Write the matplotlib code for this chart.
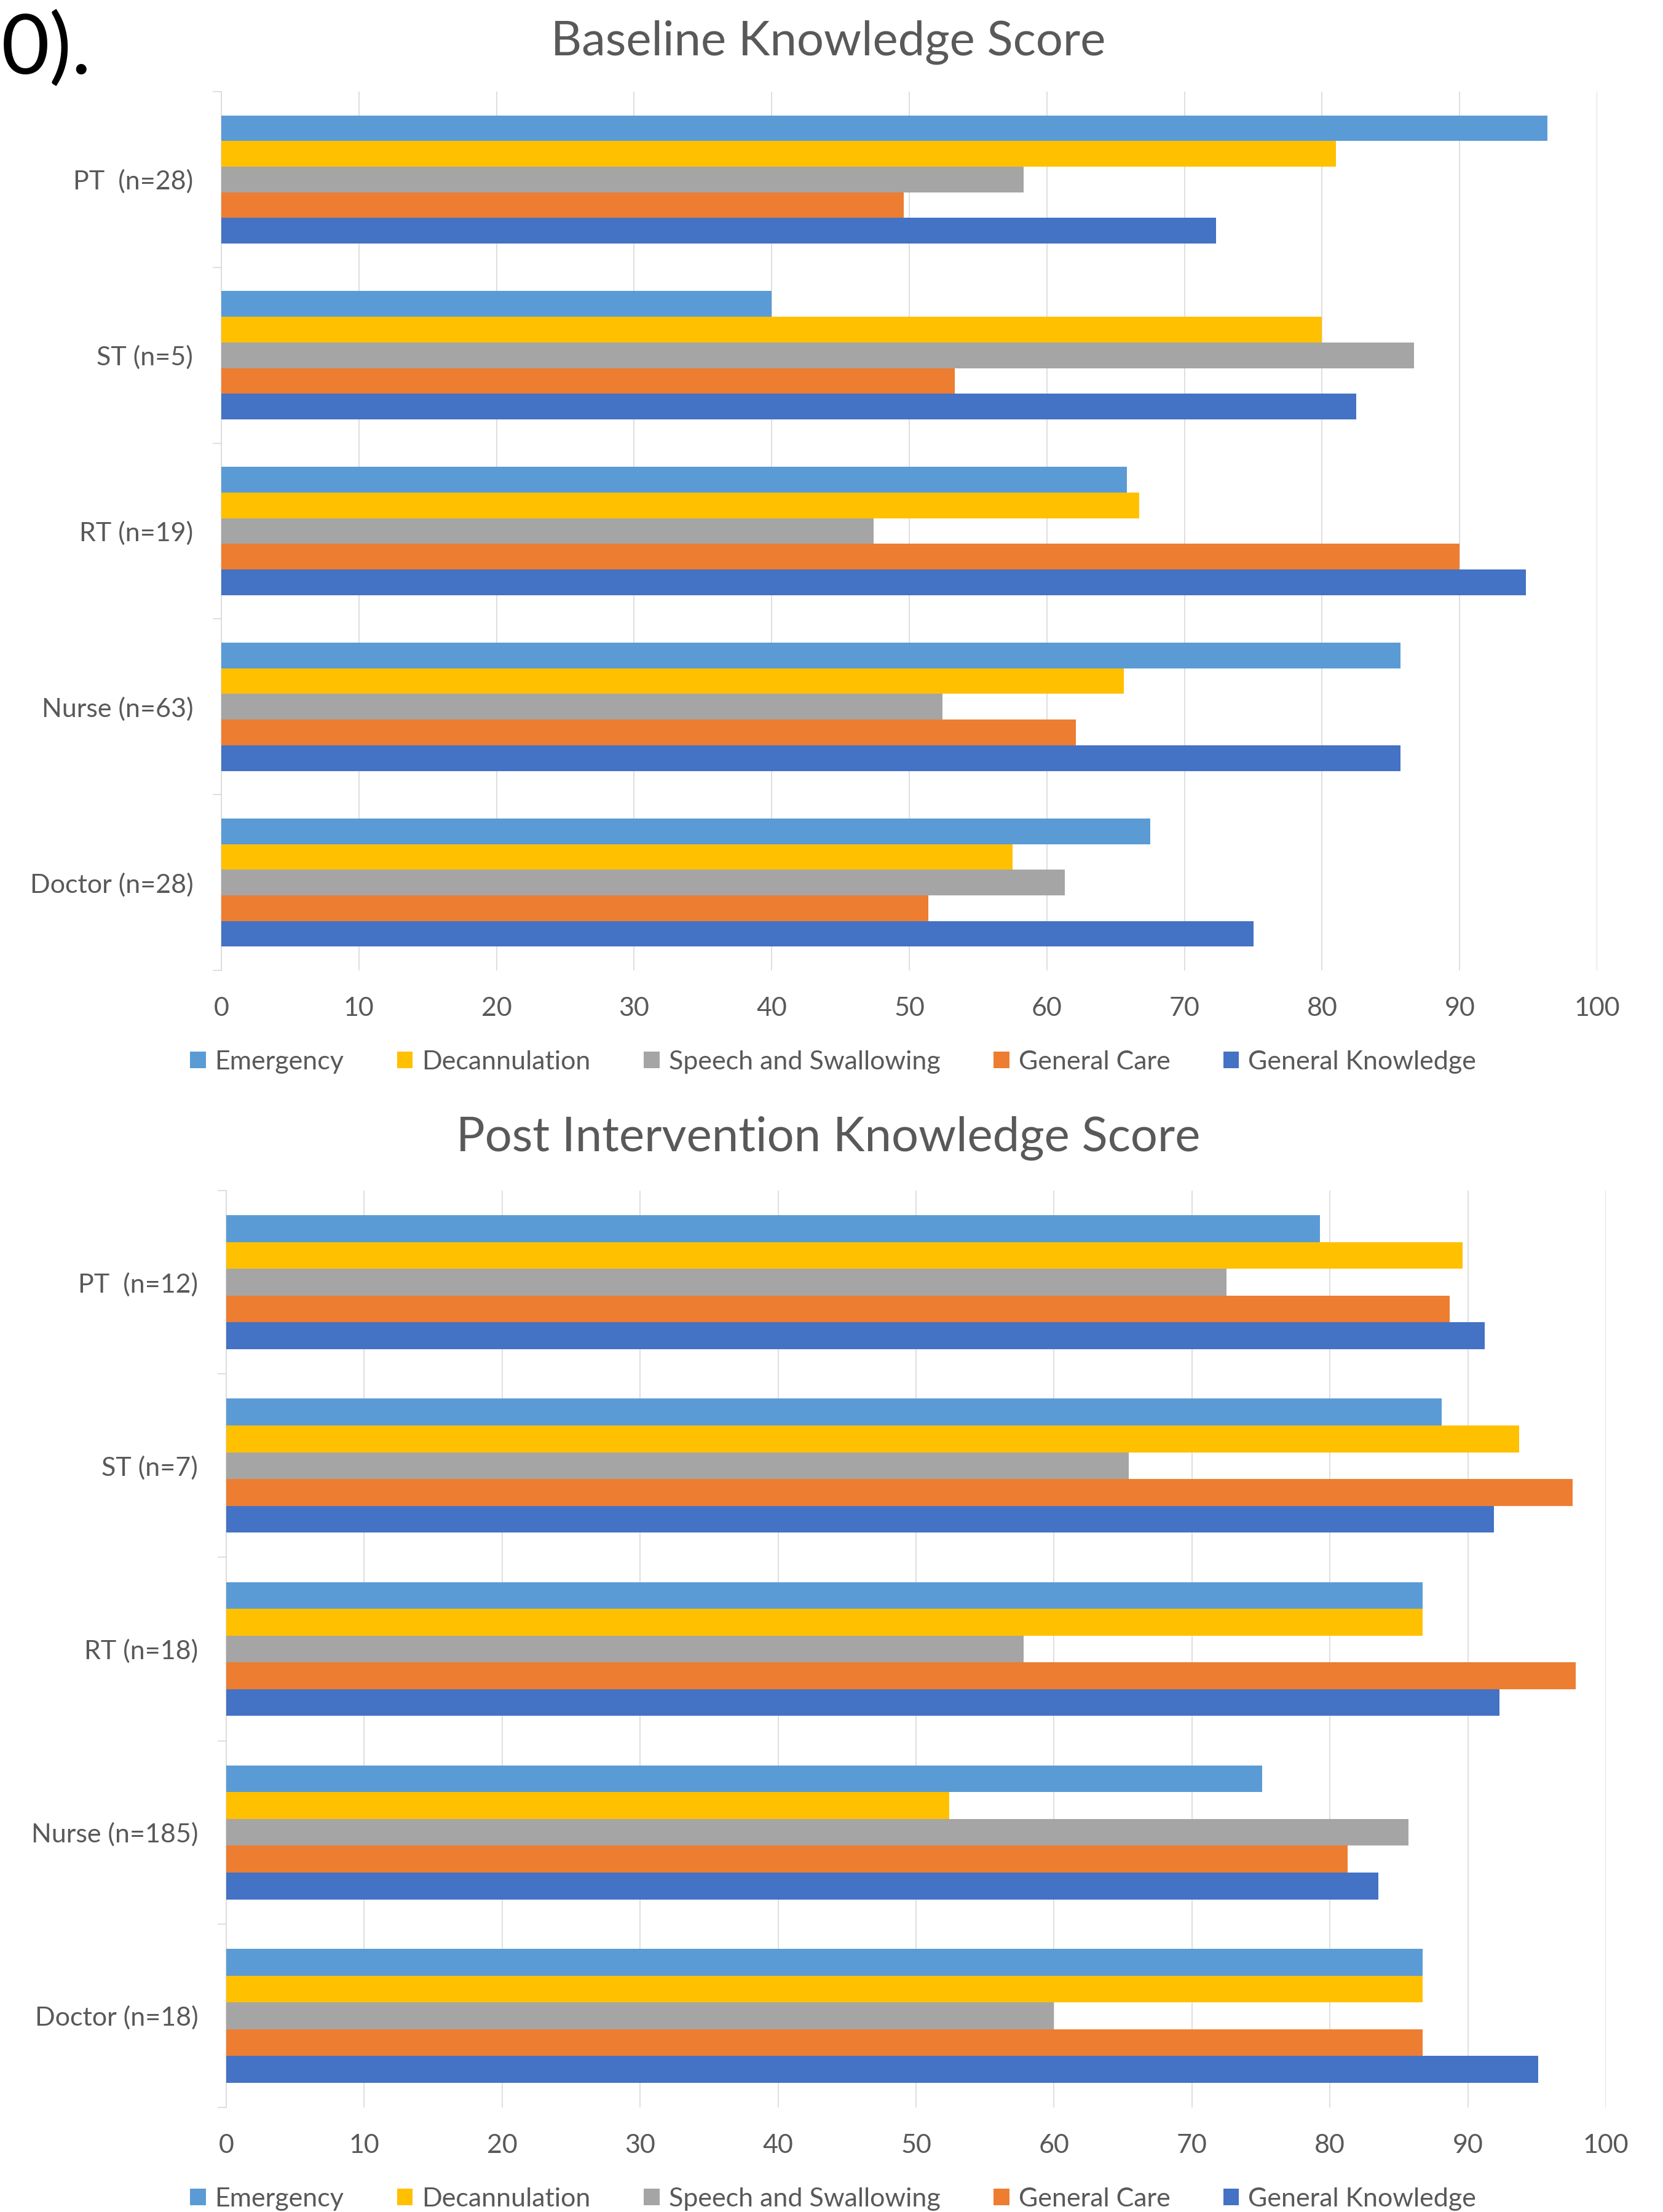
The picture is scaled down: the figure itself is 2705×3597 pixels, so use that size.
import matplotlib
matplotlib.use("Agg")
import matplotlib.pyplot as plt
from matplotlib.patches import Patch
import numpy as np

plt.rcParams['font.family'] = ['Lato', 'DejaVu Sans']

groups_base = ["PT  (n=28)", "ST (n=5)", "RT (n=19)", "Nurse (n=63)", "Doctor (n=28)"]
groups_post = ["PT  (n=12)", "ST (n=7)", "RT (n=18)", "Nurse (n=185)", "Doctor (n=18)"]
series = ["Emergency", "Decannulation", "Speech and Swallowing", "General Care", "General Knowledge"]
colors = ["#5B9BD5", "#FFC000", "#A5A5A5", "#ED7D31", "#4472C4"]

# baseline scores, order PT, ST, RT, Nurse, Doctor
base_emergency = [96.4, 40.0, 65.8, 85.7, 67.5]
base_decann = [81.0, 80.0, 66.7, 65.6, 57.5]
base_speech = [58.3, 86.7, 47.4, 52.4, 61.3]
base_care = [49.6, 53.3, 90.0, 62.1, 51.4]
base_knowledge = [72.3, 82.5, 94.8, 85.7, 75.0]

# post intervention scores
post_emergency = [79.3, 88.1, 86.7, 75.1, 86.7]
post_decann = [89.6, 93.7, 86.7, 52.4, 86.7]
post_speech = [72.5, 65.4, 57.8, 85.7, 60.0]
post_care = [88.7, 97.6, 97.8, 81.3, 86.7]
post_knowledge = [91.2, 91.9, 92.3, 83.5, 95.1]

xticks = [0, 10, 20, 30, 40, 50, 60, 70, 80, 90, 100]

W, H = 2705, 3597
fig = plt.figure(figsize=(W / 100, H / 100), dpi=100)

grid_c = "#d9d9d9"
txt_c = "#595959"
fs = 31


def draw(rect, groups, data):
    ax = fig.add_axes(rect)
    n = len(groups)
    pos = np.arange(n)[::-1]
    h = 0.146
    for i, vals in enumerate(data):
        ax.barh(pos + (2 - i) * h, vals, height=h, color=colors[i], zorder=3)
    ax.set_xlim(0, 100)
    ax.set_ylim(-0.5, n - 0.5)
    ax.set_xticks(xticks)
    ax.set_xticklabels([str(t) for t in xticks])
    ax.set_yticks(pos)
    ax.set_yticklabels(groups)
    ax.set_yticks(np.arange(n + 1) - 0.5, minor=True)
    ax.grid(axis="x", color=grid_c, linewidth=1.2, zorder=0)
    for s in ["top", "right", "bottom"]:
        ax.spines[s].set_visible(False)
    ax.spines["left"].set_color(grid_c)
    ax.spines["left"].set_linewidth(1.2)
    ax.tick_params(axis="x", length=0, pad=31, labelsize=fs, labelcolor=txt_c)
    ax.tick_params(axis="y", which="major", length=0, pad=33, labelsize=fs, labelcolor=txt_c)
    ax.tick_params(axis="y", which="minor", length=10, width=1.2, color=grid_c)
    return ax


draw([360 / W, 1 - 1578 / H, (2598 - 360) / W, (1578 - 149) / H], groups_base,
     [base_emergency, base_decann, base_speech, base_care, base_knowledge])
draw([368 / W, 1 - 3427 / H, (2612 - 368) / W, (3427 - 1936) / H], groups_post,
     [post_emergency, post_decann, post_speech, post_care, post_knowledge])

fig.text(1347 / W, 1 - 69 / H, "Baseline Knowledge Score", ha="center", va="center",
         fontsize=56, color=txt_c)
fig.text(1347 / W, 1 - 1851 / H, "Post Intervention Knowledge Score", ha="center", va="center",
         fontsize=56, color=txt_c)
fig.text(2 / W, 1 - 80 / H, "0).", ha="left", va="center", fontsize=98, color="black")

handles = [Patch(facecolor=c, label=s) for c, s in zip(colors, series)]
for yc in [1727, 3576]:
    fig.legend(handles=handles, loc="center", bbox_to_anchor=(1355 / W, 1 - yc / H), ncol=5,
               frameon=False, fontsize=fs, labelcolor=txt_c, handlelength=0.6, handleheight=0.6,
               handletextpad=0.35, columnspacing=2.0, borderaxespad=0, borderpad=0)

fig.savefig("out.png", dpi=100)
